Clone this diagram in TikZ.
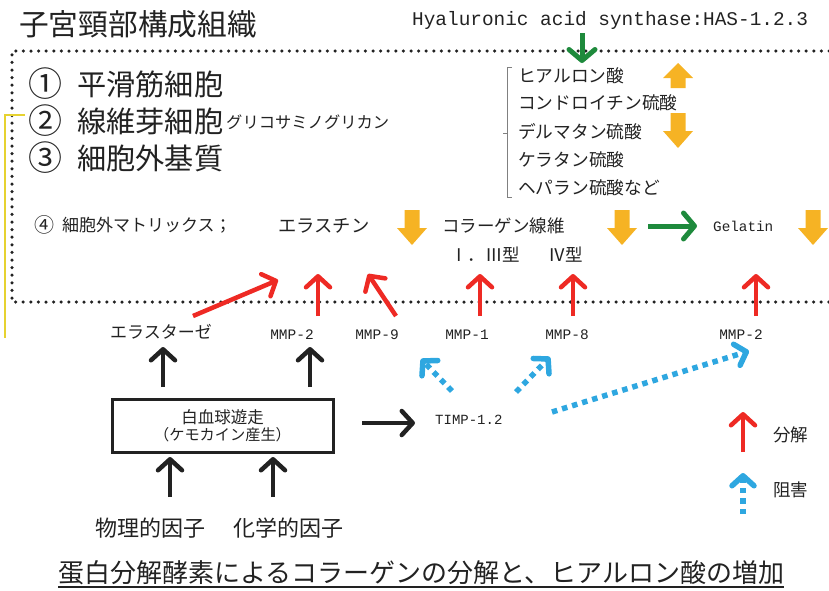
\documentclass[tikz,border=0pt]{standalone}
\usepackage{fontspec}
\setmainfont{Noto Sans CJK JP}
\setmonofont{Liberation Mono}
\usetikzlibrary{arrows.meta}
\definecolor{oy}{HTML}{F6B324}
\definecolor{gr}{HTML}{1E8A3C}
\definecolor{rd}{HTML}{EE2A24}
\definecolor{bl}{HTML}{2EA7E0}
\definecolor{ink}{HTML}{222222}
\definecolor{yl}{HTML}{E6D230}
\newcommand{\myfs}[1]{\fontsize{#1}{#1}\selectfont}
\tikzset{
  txt/.style={inner sep=0pt, text=ink},
  redarr/.style={draw=rd, line width=4.5pt, -{Straight Barb[length=11pt,width=24pt,round]}},
  blkarr/.style={draw=ink, line width=4.5pt, -{Straight Barb[length=11pt,width=24pt,round]}},
  grnarr/.style={draw=gr, line width=5pt, -{Straight Barb[length=11pt,width=26pt,round]}},
  bluarr/.style={draw=bl, line width=5.5pt, dash pattern=on 5.5pt off 5pt, -{Straight Barb[length=10pt,width=22pt,round]}},
  odown/.pic={\fill[oy] (-7.5,0) -- (7.5,0) -- (7.5,18) -- (15,18) -- (0,35) -- (-15,18) -- (-7.5,18) -- cycle;},
  oup/.pic={\fill[oy] (-7.5,25) -- (7.5,25) -- (7.5,15) -- (15,15) -- (0,0) -- (-15,15) -- (-7.5,15) -- cycle;}
}
\begin{document}
\begin{tikzpicture}[x=1pt,y=-1pt]
\useasboundingbox (0,0) rectangle (829,590);

% dotted frame
\draw[ink, line width=3.5pt, line cap=round, dash pattern=on 0pt off 7.6pt] (829,51) -- (12,51) -- (12,302) -- (829,302);
% yellow line
\draw[yl, line width=1.3pt] (25,115) -- (5,115) -- (5,338);

% title and header
\node[txt, anchor=west] (title) at (19,24) {\myfs{29.7}子宮頸部構成組織};
\node[txt, anchor=west] (has) at (412,20) {\myfs{19.4}\ttfamily Hyaluronic acid synthase:HAS-1.2.3};

% items
\node[txt] (n1) at (45,84) {\myfs{34}①};
\node[txt, anchor=west] (i1) at (77,84) {\myfs{29.2}平滑筋細胞};
\node[txt] (n2) at (45,121) {\myfs{34}②};
\node[txt, anchor=west] (i2) at (77,121) {\myfs{29.2}線維芽細胞};
\node[txt, anchor=west] (gag) at (226,122) {\myfs{16.3}グリコサミノグリカン};
\node[txt] (n3) at (45,158) {\myfs{34}③};
\node[txt, anchor=west] (i3) at (77,158) {\myfs{29.2}細胞外基質};

% bracket list
\draw[gray, line width=1pt] (512,67) -- (507,67) -- (507,197) -- (512,197);
\draw[gray, line width=1pt] (507,133) -- (503,133);
\node[txt, anchor=west] (l1) at (518,76) {\myfs{17.7}ヒアルロン酸};
\node[txt, anchor=west] (l2) at (518,103) {\myfs{17.7}コンドロイチン硫酸};
\node[txt, anchor=west] (l3) at (518,132) {\myfs{17.7}デルマタン硫酸};
\node[txt, anchor=west] (l4) at (518,160) {\myfs{17.7}ケラタン硫酸};
\node[txt, anchor=west] (l5) at (518,188) {\myfs{17.7}ヘパラン硫酸など};

% green arrow from HAS
\coordinate (hasA) at (582,33);
\coordinate (hasB) at (582,63);
\draw[grnarr] (hasA) -- (hasB);

% orange arrows
\pic at (678,63) {oup};
\pic at (678,113) {odown};
\pic at (412,210) {odown};
\pic at (622,210) {odown};
\pic at (813,210) {odown};

% matrix row
\node[txt] (n4) at (44,225) {\myfs{20}④};
\node[txt, anchor=west] (m4) at (62,225) {\myfs{17}細胞外マトリックス；};
\node[txt, anchor=west] (elastin) at (278,226) {\myfs{18.3}エラスチン};
\node[txt, anchor=west] (collagen) at (442,226) {\myfs{17.5}コラーゲン線維};
\node[txt, anchor=west] (t13) at (450,255) {\myfs{17.5}Ⅰ．Ⅲ型};
\node[txt, anchor=west] (t4) at (548,255) {\myfs{17.5}Ⅳ型};
\node[txt, anchor=west] (gel) at (713,226) {\myfs{14.3}\ttfamily Gelatin};
\coordinate (gA) at (648,226);
\coordinate (gB) at (697,226);
\draw[grnarr] (gA) -- (gB);

% enzymes
\node[txt] (elase) at (161,332) {\myfs{17}エラスターゼ};
\node[txt] (mmp2) at (292,335) {\myfs{14.5}\ttfamily MMP-2};
\node[txt] (mmp9) at (377,335) {\myfs{14.5}\ttfamily MMP-9};
\node[txt] (mmp1) at (467,335) {\myfs{14.5}\ttfamily MMP-1};
\node[txt] (mmp8) at (567,335) {\myfs{14.5}\ttfamily MMP-8};
\node[txt] (mmp2b) at (741,335) {\myfs{14.5}\ttfamily MMP-2};

% red arrows
\coordinate (r1a) at (193,316); \coordinate (r1b) at (278,280);
\coordinate (r2a) at (318,316); \coordinate (r2b) at (318,274);
\coordinate (r3a) at (396,316); \coordinate (r3b) at (368,274);
\coordinate (r4a) at (480,316); \coordinate (r4b) at (480,274);
\coordinate (r5a) at (573,316); \coordinate (r5b) at (573,274);
\coordinate (r6a) at (756,316); \coordinate (r6b) at (756,274);
\foreach \i in {1,...,6} {\draw[redarr] (r\i a) -- (r\i b);}

% box
\node[draw=ink, line width=3pt, minimum width=221pt, minimum height=53pt, inner sep=0pt, text=ink, align=center] (box) at (222.5,425.5)
  {\myfs{16.5}白血球遊走\\[2pt]\myfs{15.2}（ケモカイン産生）};

% black arrows
\coordinate (b1a) at (163,387); \coordinate (b1b) at (163,347);
\coordinate (b2a) at (310,387); \coordinate (b2b) at (310,347);
\coordinate (b3a) at (170,497); \coordinate (b3b) at (170,457);
\coordinate (b4a) at (273,497); \coordinate (b4b) at (273,457);
\coordinate (b5a) at (362,423); \coordinate (b5b) at (415,423);
\foreach \i in {1,...,5} {\draw[blkarr] (b\i a) -- (b\i b);}

\node[txt, anchor=west] (timp) at (435,420) {\myfs{14}\ttfamily TIMP-1.2};

% factors
\node[txt] (phys) at (150,528) {\myfs{22}物理的因子};
\node[txt] (chem) at (288,528) {\myfs{22}化学的因子};

% blue inhibitions
\coordinate (u1a) at (452,391); \coordinate (u1b) at (421,359);
\coordinate (u2a) at (516,392); \coordinate (u2b) at (550,357);
\coordinate (u3a) at (552,412); \coordinate (u3b) at (749,351);
\foreach \i in {1,2,3} {\draw[bluarr] (u\i a) -- (u\i b);}

% legend
\coordinate (lra) at (743,452); \coordinate (lrb) at (743,412);
\draw[redarr] (lra) -- (lrb);
\node[txt, anchor=west] (bunkai) at (773,435) {\myfs{17.5}分解};
\coordinate (lba) at (743,514); \coordinate (lbb) at (743,473);
\draw[bluarr] (lba) -- (lbb);
\node[txt, anchor=west] (sogai) at (773,490) {\myfs{17.5}阻害};

% caption
\node[txt, anchor=west] (cap) at (58,573) {\myfs{26}蛋白分解酵素によるコラーゲンの分解と、ヒアルロン酸の増加};
\draw[ink, line width=1.3pt] (cap.south west |- 0,587) -- (cap.south east |- 0,587);
\end{tikzpicture}
\end{document}
